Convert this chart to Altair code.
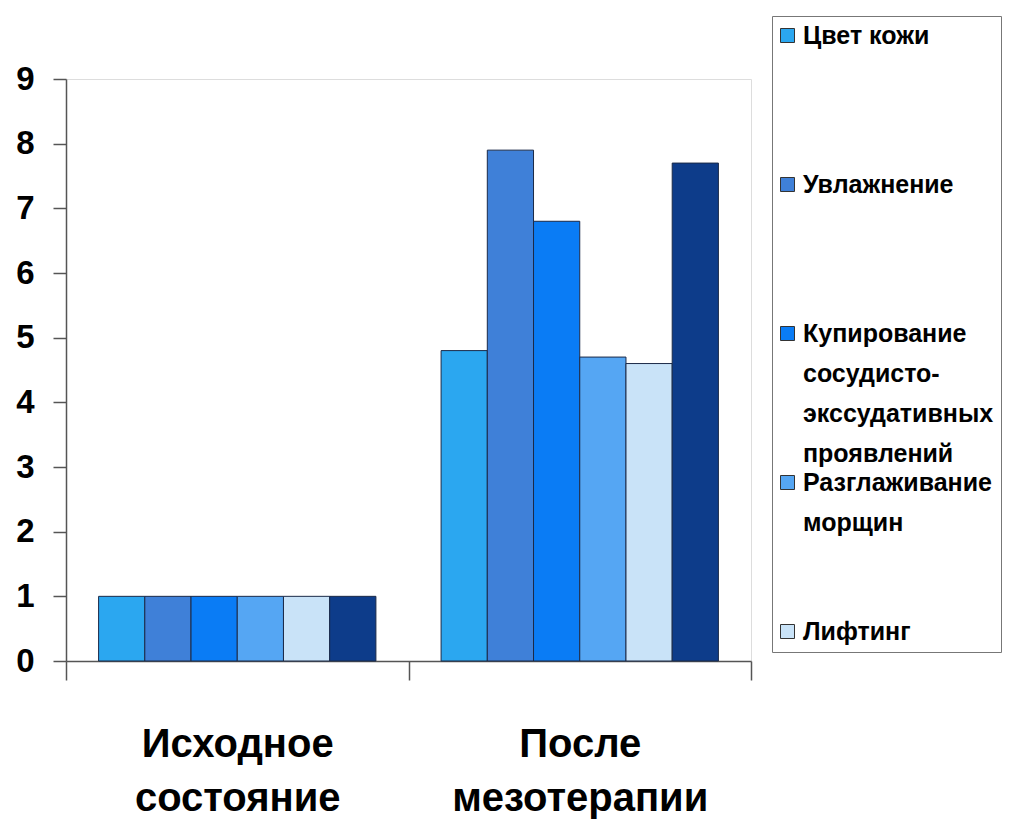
import altair as alt
import pandas as pd

# ---- data ----
categories = ["Исходное состояние", "После мезотерапии"]
series = [
    "Цвет кожи",
    "Увлажнение",
    "Купирование сосудисто-экссудативных проявлений",
    "Разглаживание морщин",
    "Лифтинг",
    "Серия 6",
]
values_initial = [1.0, 1.0, 1.0, 1.0, 1.0, 1.0]
values_after = [4.8, 7.9, 6.8, 4.7, 4.6, 7.7]
colors = ["#2ba7f0", "#3f80d8", "#0a7cf5", "#55a6f3", "#c9e3f8", "#0d3c8a"]
legend_series = series[:5]
legend_wrap = [
    ["Цвет кожи"],
    ["Увлажнение"],
    ["Купирование", "сосудисто-", "экссудативных", "проявлений"],
    ["Разглаживание", "морщин"],
    ["Лифтинг"],
]
y_ticks = [0, 1, 2, 3, 4, 5, 6, 7, 8, 9]

rows = []
for cat, vals in zip(categories, [values_initial, values_after]):
    for s, v in zip(series, vals):
        rows.append({"Категория": cat, "Показатель": s, "Значение": v})
df = pd.DataFrame(rows)

FONT = "Liberation Sans"

# legend label expression (multi-line labels)
expr = "datum.label"
for i in reversed(range(len(legend_series))):
    lines = list(legend_wrap[i])
    if i < len(legend_series) - 1:
        lines = lines + [" "] * (4 - len(lines))
    arr = "[" + ",".join("'" + l + "'" for l in lines) + "]"
    expr = "datum.label == '" + legend_series[i] + "' ? " + arr + " : (" + expr + ")"

legend_kwargs = dict(
    values=legend_series, title=None, orient="none", legendX=706, legendY=-63,
    direction="vertical", symbolType="square", symbolSize=196,
    symbolStrokeColor="#333333", symbolStrokeWidth=1, symbolOpacity=1,
    labelFont=FONT, labelFontSize=25, labelFontWeight="bold", labelColor="#000000",
    labelLimit=400, labelOffset=3, labelBaseline="middle", labelExpr=expr,
    rowPadding=3, padding=7, strokeColor="#777777", fillColor="#ffffff",
)
try:
    legend = alt.Legend(symbolOffset=-4, **legend_kwargs)
except Exception:
    legend = alt.Legend(**legend_kwargs)

chart = alt.Chart(df).mark_bar(stroke="#1b2a48", strokeWidth=1).encode(
    x=alt.X(
        "Категория:N",
        sort=categories,
        title=None,
        scale=alt.Scale(paddingInner=0, paddingOuter=0),
        axis=alt.Axis(
            labelAngle=0, labelFont=FONT, labelFontSize=40, labelFontWeight="bold",
            labelColor="#000000", labelBaseline="top", labelLineHeight=54,
            labelPadding=44, labelLimit=400, tickSize=19, tickBand="extent",
            labelExpr="split(datum.label, ' ')", domainColor="#555555",
            tickColor="#555555", domainWidth=1.5, tickWidth=1.5, grid=False,
        ),
    ),
    xOffset=alt.XOffset("Показатель:N", sort=series,
                        scale=alt.Scale(paddingInner=0, paddingOuter=0.705)),
    y=alt.Y(
        "Значение:Q",
        title=None,
        scale=alt.Scale(domain=[0, 9], nice=False),
        axis=alt.Axis(
            values=y_ticks, labelFont=FONT, labelFontSize=33, labelFontWeight="bold",
            labelColor="#000000", tickSize=13, labelPadding=19, grid=False,
            domainColor="#555555", tickColor="#555555", domainWidth=1.5, tickWidth=1.5,
        ),
    ),
    color=alt.Color(
        "Показатель:N",
        sort=series,
        scale=alt.Scale(domain=series, range=colors),
        legend=legend,
    ),
).properties(
    width=685,
    height=582,
    padding={"left": 58, "top": 71, "right": 251, "bottom": 159},
    autosize=alt.AutoSizeParams(type="none"),
).configure_view(
    stroke="#555555", strokeWidth=2
).configure(
    style={"guide-label": {"lineHeight": 40}}
)

chart.save("out.html", embed_options={"renderer": "svg", "actions": False})
